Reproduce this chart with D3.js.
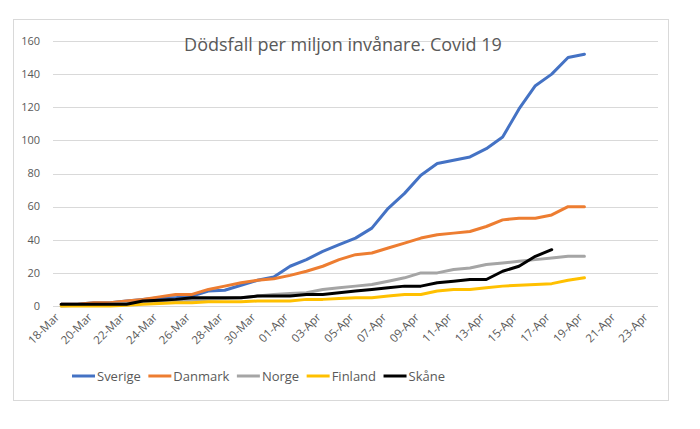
<!DOCTYPE html>
<html>
<head>
<meta charset="utf-8">
<script src="https://cdn.jsdelivr.net/npm/d3@7"></script>
<style>
  body { margin: 0; background: #fff; }
  svg { display: block; font-family: "Open Sans", "Noto Sans", sans-serif; }
</style>
</head>
<body>
<svg id="chart" width="700" height="429"></svg>
<script>
// dagar 18-Mar .. 23-Apr
var days = d3.timeDay.range(new Date(2020, 2, 18), new Date(2020, 3, 24));
var fmt = d3.timeFormat("%d-%b");
var categories = days.map(function (d) { return fmt(d); });
var yTicks = [0, 20, 40, 60, 80, 100, 120, 140, 160];

var sverige = [1, 1, 2, 2, 3, 4, 5, 5, 6, 9, 9.5, 12.5, 15.5, 17.5, 24, 28, 33, 37, 41, 47, 59, 68, 79, 86, 88, 90, 95, 102, 119, 133, 140, 150, 152];
var danmark = [1, 1, 2, 2, 3, 4, 5.5, 7, 7, 10, 12, 14, 15.5, 16.5, 18.5, 21, 24, 28, 31, 32, 35, 38, 41, 43, 44, 45, 48, 52, 53, 53, 55, 60, 60];
var norge = [0, 0.5, 0.5, 1, 1.5, 2, 2.5, 3, 3.5, 4, 4.5, 5, 6, 7, 7.5, 8, 10, 11, 12, 13, 15, 17, 20, 20, 22, 23, 25, 26, 27, 28, 29, 30, 30];
var finland = [0, 0, 0, 0, 0.5, 1, 1.5, 2, 2, 2.5, 2.5, 2.5, 3, 3, 3, 4, 4, 4.5, 5, 5, 6, 7, 7, 9, 10, 10, 11, 12, 12.5, 13, 13.5, 15.5, 17];
var skane = [1, 1, 1, 1, 1, 3, 3.5, 4, 5, 5, 5, 5, 6, 6, 6, 7, 7, 8, 9, 10, 11, 12, 12, 14, 15, 16, 16, 21, 24, 30, 34];

var series = [
  { name: "Sverige", values: sverige, color: "#4472C4" },
  { name: "Danmark", values: danmark, color: "#ED7D31" },
  { name: "Norge", values: norge, color: "#A5A5A5" },
  { name: "Finland", values: finland, color: "#FFC000" },
  { name: "Skåne", values: skane, color: "#000000" }
];

var svg = d3.select("#chart");
var textColor = "#595959";

// ram
svg.append("rect")
  .attr("x", 13.5).attr("y", 19.5)
  .attr("width", 655).attr("height", 381)
  .attr("fill", "#fff").attr("stroke", "#d9d9d9");

var x = d3.scalePoint().domain(categories).range([53, 658]).padding(0.5);
var y = d3.scaleLinear().domain([0, 160]).range([306, 41]);

// rutnät
svg.append("g").selectAll("line").data(yTicks).enter().append("line")
  .attr("x1", 53).attr("x2", 658)
  .attr("y1", function (d) { return Math.round(y(d)) + 0.5; })
  .attr("y2", function (d) { return Math.round(y(d)) + 0.5; })
  .attr("stroke", "#d9d9d9").attr("stroke-width", 1);

// y-etiketter
svg.append("g").selectAll("text").data(yTicks).enter().append("text")
  .attr("x", 40)
  .attr("y", function (d) { return y(d); })
  .attr("dy", "0.35em")
  .attr("text-anchor", "end")
  .attr("fill", textColor)
  .style("font-size", "11px")
  .text(function (d) { return d; });

// x-etiketter (varannan dag)
svg.append("g").selectAll("text")
  .data(categories.filter(function (c, i) { return i % 2 === 0; }))
  .enter().append("text")
  .attr("transform", function (d) { return "translate(" + (x(d) - 4) + ",315) rotate(-45)"; })
  .attr("dy", "0.35em")
  .attr("text-anchor", "end")
  .attr("fill", textColor)
  .style("font-size", "11.5px")
  .text(function (d) { return d; });

var line = d3.line()
  .x(function (d, i) { return x(categories[i]); })
  .y(function (d) { return y(d); });

svg.append("g").selectAll("path").data(series).enter().append("path")
  .attr("d", function (s) { return line(s.values); })
  .attr("fill", "none")
  .attr("stroke", function (s) { return s.color; })
  .attr("stroke-width", 3)
  .attr("stroke-linejoin", "round")
  .attr("stroke-linecap", "round");

// titel
svg.append("text")
  .attr("x", 343).attr("y", 51)
  .attr("text-anchor", "middle")
  .attr("fill", textColor)
  .style("font-size", "18px")
  .text("Dödsfall per miljon invånare. Covid 19");

// legend, placerad efter uppmätt textbredd
var leg = svg.append("g").selectAll("g").data(series).enter().append("g");
leg.append("line")
  .attr("x1", 0).attr("x2", 23).attr("y1", 0).attr("y2", 0)
  .attr("stroke", function (s) { return s.color; })
  .attr("stroke-width", 3);
leg.append("text")
  .attr("x", 25).attr("dy", "0.35em")
  .attr("fill", textColor)
  .style("font-size", "13px")
  .text(function (s) { return s.name; });

var widths = [];
leg.select("text").each(function () { widths.push(25 + this.getComputedTextLength()); });
var total = d3.sum(widths);
var gap = (445 - 72 - total) / (series.length - 1);
var pos = 72;
leg.attr("transform", function (s, i) {
  var p = pos;
  pos += widths[i] + gap;
  return "translate(" + p + ",376)";
});
</script>
</body>
</html>
